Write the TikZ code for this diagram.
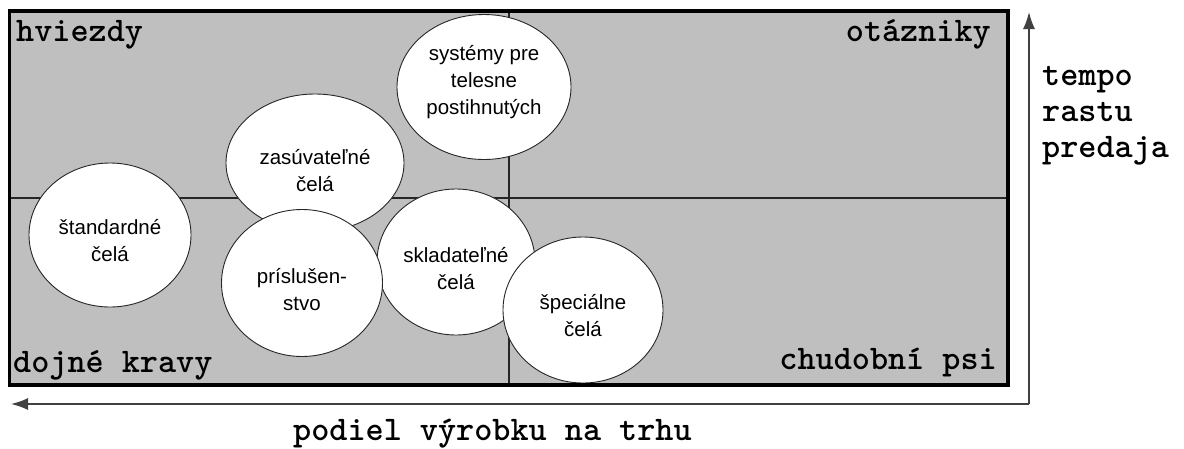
\documentclass[tikz,border=0pt]{standalone}
\usepackage{fontspec}
\setmainfont{Liberation Sans}
\usetikzlibrary{shapes.geometric,arrows.meta}

\begin{document}
\begin{tikzpicture}[x=1pt,y=-1pt,
	bubble/.style={ellipse,draw=black!85,fill=white,line width=0.9pt,inner sep=0pt},
	bubbletext/.style={align=center,inner sep=0pt,font=\fontsize{20.5}{27}\selectfont},
	quadrant/.style={inner sep=0pt,font=\ttfamily\bfseries\fontsize{34.5}{36}\selectfont},
	axis/.style={draw=black!75,line width=1.6pt,-{Latex[length=17pt,width=12pt]}}]
	\useasboundingbox (0,0) rectangle (1184,448);
	\fill[black!25] (9.5,11) rectangle (1008,385);
	\draw[line width=1.6pt,black!85] (509,11) -- (509,385) (9.5,198) -- (1008,198);
	% bubbles
	\node[bubble,minimum width=162pt,minimum height=144pt] (standard) at (110,235) {};
	\node[bubble,minimum width=178pt,minimum height=138pt] (zasuv) at (315,163) {};
	\node[bubble,minimum width=174pt,minimum height=145pt] (systemy) at (484,87) {};
	\node[bubble,minimum width=158pt,minimum height=146pt] (sklad) at (456,262) {};
	\node[bubble,minimum width=161pt,minimum height=147pt] (prislus) at (302,283) {};
	\node[bubble,minimum width=160pt,minimum height=146pt] (special) at (583,310) {};
	\node[bubbletext] (standard-t) at ([yshift=-6pt]standard.center) {štandardné\\čelá};
	\node[bubbletext] (zasuv-t) at ([yshift=-8pt]zasuv.center) {zasúvateľné\\čelá};
	\node[bubbletext] (systemy-t) at ([yshift=5pt]systemy.center) {systémy pre\\telesne\\postihnutých};
	\node[bubbletext] (sklad-t) at ([yshift=-7pt]sklad.center) {skladateľné\\čelá};
	\node[bubbletext] (prislus-t) at ([yshift=-7pt]prislus.center) {príslušen-\\stvo};
	\node[bubbletext] (special-t) at ([yshift=-6pt]special.center) {špeciálne\\čelá};
	\draw[line width=3.5pt] (9.5,11) rectangle (1008,385);
	% quadrant names
	\node[quadrant,anchor=base west] (hviezdy) at (16,41) {hviezdy};
	\node[quadrant,anchor=base east] (otazniky) at (991,41) {otázniky};
	\node[quadrant,anchor=base west] (dojne) at (13,372) {dojné kravy};
	\node[quadrant,anchor=base east] (chudobni) at (997,369) {chudobní psi};
	% axes
	\coordinate (origin) at (1029,404);
	\coordinate (ytip) at (1029,12);
	\coordinate (xtip) at (11,404);
	\draw[axis] (origin) -- (ytip);
	\draw[axis] (origin) -- (xtip);
	\node[quadrant,anchor=base west,align=left] (tempo) at (1042,157) {tempo\\rastu\\predaja};
	\node[quadrant,anchor=base west] (podiel) at (293,440) {podiel výrobku na trhu};
\end{tikzpicture}
\end{document}
